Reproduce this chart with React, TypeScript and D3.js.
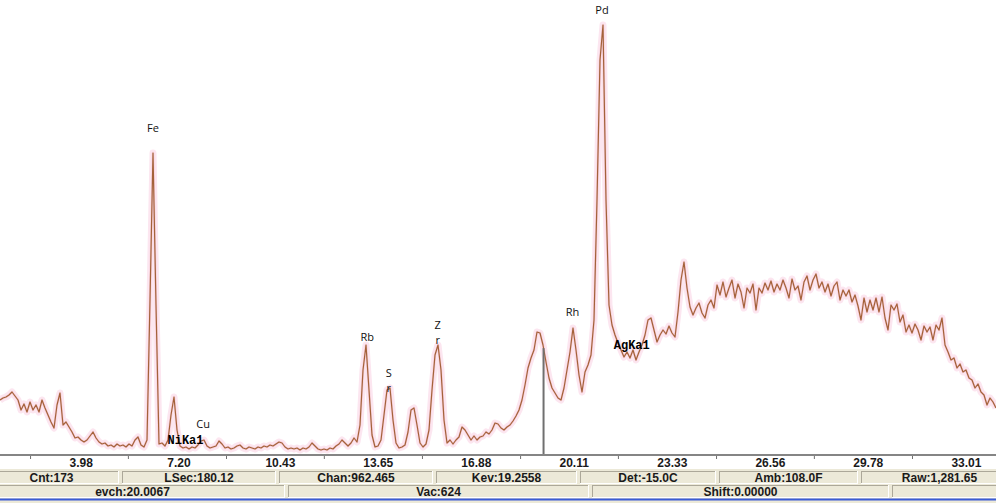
import React from "react";
import * as d3 from "d3";

// Spectrum: counts per energy bin (bin width in keV)
const KEV_START = 1.364;
const KEV_STEP = 0.09875;
const COUNTS = [
  55, 57, 58, 60, 63, 59, 55, 45, 51, 43,
  53, 45, 50, 43, 55, 47, 40, 33, 27, 50,
  62, 30, 33, 28, 23, 17, 18, 15, 13, 15,
  19, 23, 17, 13, 11, 12, 9, 10, 8, 11,
  9, 10, 8, 11, 9, 15, 18, 10, 8, 15,
  155, 302, 150, 11, 12, 9, 15, 40, 58, 25,
  9, 7, 8, 6, 8, 7, 10, 14, 15, 9,
  7, 8, 9, 14, 11, 7, 8, 6, 7, 9,
  10, 7, 6, 8, 7, 6, 8, 7, 9, 8,
  10, 9, 11, 13, 12, 8, 6, 7, 6, 7,
  5, 7, 6, 8, 12, 9, 6, 5, 6, 5,
  7, 6, 9, 11, 15, 12, 9, 12, 17, 13,
  30, 85, 110, 65, 20, 8, 9, 15, 40, 65,
  67, 35, 12, 7, 8, 10, 23, 45, 47, 30,
  12, 8, 11, 25, 65, 100, 110, 85, 35, 12,
  15, 11, 15, 18, 28, 25, 20, 15, 19, 15,
  18, 19, 23, 21, 25, 32, 31, 27, 25, 28,
  30, 34, 39, 45, 55, 70, 87, 97, 105, 123,
  122, 110, 93, 77, 67, 62, 57, 55, 67, 85,
  103, 127, 105, 80, 63, 83, 90, 100, 135, 255,
  395, 430, 255, 150, 130, 120, 112, 105, 98, 103,
  97, 105, 95, 103, 110, 120, 135, 137, 125, 113,
  120, 125, 121, 129, 122, 118, 143, 175, 193, 167,
  148, 140, 147, 152, 142, 137, 150, 155, 147, 170,
  160, 173, 158, 167, 175, 157, 171, 163, 147, 167,
  162, 171, 145, 167, 162, 172, 165, 174, 163, 171,
  165, 175, 167, 157, 176, 165, 169, 155, 173, 179,
  165, 175, 181, 167, 173, 163, 171, 159, 169, 173,
  155, 165, 159, 165, 153, 160, 149, 135, 157, 143,
  155, 145, 157, 143, 158, 137, 125, 150, 145, 151,
  133, 140, 123, 130, 122, 131, 125, 115, 129, 123,
  128, 115, 130, 125, 137, 110, 103, 95, 97, 87,
  91, 83, 85, 77, 75, 67, 71, 63, 60, 50,
  57, 53, 47,
];

const TICK_VALUES = [3.98, 7.2, 10.43, 13.65, 16.88, 20.11, 23.33, 26.56, 29.78, 33.01];
const TICK_LABELS = ["3.98", "7.20", "10.43", "13.65", "16.88", "20.11", "23.33", "26.56", "29.78", "33.01"];

const PEAK_NAMES = ["Fe", "Cu", "Rb", "S", "r", "Z", "r", "Rh", "Pd"];
const PEAK_KEV = [6.4, 8.05, 13.45, 14.16, 14.16, 15.77, 15.77, 20.21, 21.18];
const PEAK_LABEL_LEVEL = [323, 27, 114, 78, 63, 126, 111, 139, 441];

const LINE_NAMES = ["NiKa1", "AgKa1"];
const LINE_KEV = [7.47, 22.16];
const LINE_LABEL_LEVEL = [11, 106];

const CURSOR_KEV = 19.2558;

const STATUS_ROW1 = ["Cnt:173", "LSec:180.12", "Chan:962.465", "Kev:19.2558", "Det:-15.0C", "Amb:108.0F", "Raw:1,281.65"];
const STATUS_ROW2 = ["evch:20.0067", "Vac:624", "Shift:0.00000", ""];

// layout
const W = 996;
const H = 503;
const AXIS_Y = 455;
const ROW1_EDGES = [-16, 119, 122, 276, 279, 433, 436, 577, 580, 716, 719, 858, 861, 1018];
const ROW2_EDGES = [-20, 285, 288, 589, 592, 889, 892, 1010];

export default function App() {
  const x = d3.scaleLinear().domain([1.364, 34.149]).range([0, W]);
  const y = d3.scaleLinear().domain([0, 455]).range([AXIS_Y, 0]);

  const pts: [number, number][] = COUNTS.map((c, i) => [KEV_START + i * KEV_STEP, c]);
  const line = d3
    .line<[number, number]>()
    .x((d) => x(d[0]))
    .y((d) => y(d[1]));
  const path = line(pts) || "";

  // cursor height from spectrum
  const fi = (CURSOR_KEV - KEV_START) / KEV_STEP;
  const i0 = Math.floor(fi);
  const t = fi - i0;
  const cursorCounts = COUNTS[i0] * (1 - t) + COUNTS[i0 + 1] * t;

  const half = (TICK_VALUES[1] - TICK_VALUES[0]) / 2;
  const midTicks = TICK_VALUES.map((v) => v - half);

  const boxFont = "'Liberation Sans', Arial, sans-serif";

  const renderRow = (edges: number[], texts: string[], top: number, h: number) =>
    texts.map((tx, k) => {
      const x0 = edges[2 * k];
      const x1 = edges[2 * k + 1];
      return (
        <g key={k}>
          <rect x={x0} y={top} width={x1 - x0} height={h} fill="#ece9d8" />
          <line x1={x0} y1={top + 0.5} x2={x1} y2={top + 0.5} stroke="#aca899" />
          <line x1={x0 + 0.5} y1={top} x2={x0 + 0.5} y2={top + h} stroke="#aca899" />
          <line x1={x0} y1={top + h - 0.5} x2={x1} y2={top + h - 0.5} stroke="#ffffff" />
          <line x1={x1 - 0.5} y1={top} x2={x1 - 0.5} y2={top + h} stroke="#ffffff" />
          <text
            x={(x0 + x1) / 2}
            y={top + h - 2}
            textAnchor="middle"
            fontFamily={boxFont}
            fontWeight="bold"
            fontSize={12}
            fill="#1a1a1a"
          >
            {tx}
          </text>
        </g>
      );
    });

  return (
    <svg
      width={W}
      height={H}
      style={{ position: "absolute", left: 0, top: 0, display: "block", background: "#fff" }}
    >
      <rect x={0} y={0} width={W} height={H} fill="#ffffff" />
      {/* spectrum halo + line */}
      <path d={path} fill="none" stroke="#fce6f0" strokeWidth={7} strokeLinejoin="round" />
      <path d={path} fill="none" stroke="#f2b3bd" strokeWidth={2.4} strokeLinejoin="round" opacity={0.45} />
      <path d={path} fill="none" stroke="#a4623a" strokeWidth={1.2} strokeLinejoin="round" />

      {/* cursor */}
      <line
        x1={x(CURSOR_KEV)}
        x2={x(CURSOR_KEV)}
        y1={y(cursorCounts)}
        y2={AXIS_Y}
        stroke="#707070"
        strokeWidth={2}
      />

      {/* peak labels */}
      {PEAK_NAMES.map((n, k) => (
        <text
          key={"p" + k}
          x={x(PEAK_KEV[k])}
          y={y(PEAK_LABEL_LEVEL[k])}
          textAnchor="middle"
          fontFamily="'Open Sans', sans-serif"
          fontSize={11}
          fill="#111"
        >
          {n}
        </text>
      ))}
      {LINE_NAMES.map((n, k) => (
        <text
          key={"l" + k}
          x={x(LINE_KEV[k])}
          y={y(LINE_LABEL_LEVEL[k])}
          textAnchor="middle"
          fontFamily="'Liberation Mono', monospace"
          fontWeight="bold"
          fontSize={12}
          fill="#000"
        >
          {n}
        </text>
      ))}

      {/* axis */}
      <line x1={0} x2={W} y1={AXIS_Y} y2={AXIS_Y} stroke="#858585" strokeWidth={2} />
      {midTicks.map((v, k) => (
        <line key={"t" + k} x1={x(v)} x2={x(v)} y1={AXIS_Y + 1} y2={AXIS_Y + 4} stroke="#707070" strokeWidth={1} />
      ))}
      {TICK_VALUES.map((v, k) => (
        <text
          key={"tl" + k}
          x={x(v) - 10}
          y={467}
          fontFamily={boxFont}
          fontWeight="bold"
          fontSize={12}
          fill="#1a1a1a"
        >
          {TICK_LABELS[k]}
        </text>
      ))}

      {/* status bar */}
      <rect x={0} y={469} width={W} height={H - 469} fill="#ece9d8" />
      {renderRow(ROW1_EDGES, STATUS_ROW1, 471, 13)}
      {renderRow(ROW2_EDGES, STATUS_ROW2, 485, 13)}
      <line x1={0} x2={W} y1={499.5} y2={499.5} stroke="#3a5bd6" strokeWidth={2} />
    </svg>
  );
}
